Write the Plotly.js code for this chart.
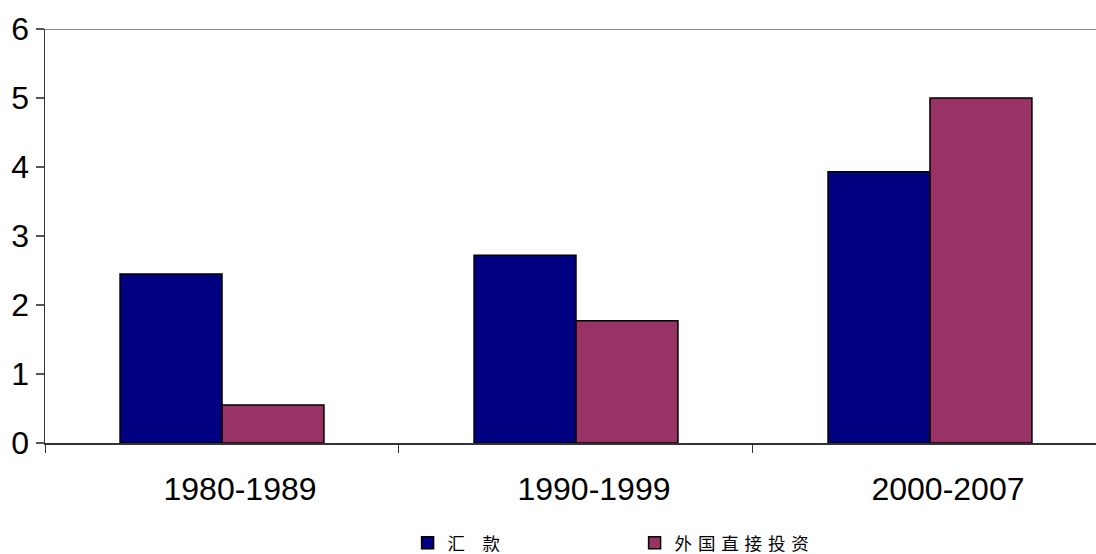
<!DOCTYPE html>
<html>
<head>
<meta charset="utf-8">
<script src="https://cdn.plot.ly/plotly-3.0.1.min.js"></script>
<style>html,body{margin:0;padding:0;background:#fff;overflow:hidden;}#chart{width:1096px;height:554px;}</style>
</head>
<body>
<div id="chart"></div>
<script>
var categories = ["1980-1989", "1990-1999", "2000-2007"];
var remittances = [2.45, 2.72, 3.93];
var fdi = [0.55, 1.77, 5.0];
var seriesNames = ["汇\u3000款", "外\u2004国\u2004直\u2004接\u2004投\u2004资"];
var yTicks = [0, 1, 2, 3, 4, 5, 6];

var traces = [
  {type: "bar", x: categories, y: remittances, name: seriesNames[0],
   marker: {color: "#000080", line: {color: "#000000", width: 1.5}}},
  {type: "bar", x: categories, y: fdi, name: seriesNames[1],
   marker: {color: "#993366", line: {color: "#000000", width: 1.5}}}
];

var layout = {
  width: 1096, height: 554,
  margin: {l: 45, r: 0, t: 29, b: 111, autoexpand: false},
  paper_bgcolor: "#ffffff", plot_bgcolor: "#ffffff",
  barmode: "group", bargap: 0.424, bargroupgap: 0,
  showlegend: true,
  font: {family: "Liberation Sans, Arial, sans-serif", color: "#000000"},
  xaxis: {
    type: "category", range: [-0.5, 2.469],
    tickson: "boundaries", ticks: "outside", ticklen: 8, tickcolor: "#333333", tickwidth: 1,
    showline: true, linecolor: "#333333", linewidth: 1.5,
    showgrid: false, zeroline: false,
    tickfont: {size: 32, family: "Liberation Sans, Arial, sans-serif"},
    ticklabelstandoff: 17, ticklabelshift: 18, fixedrange: true
  },
  yaxis: {
    range: [0, 6], tickvals: yTicks, ticks: "outside", ticklen: 8,
    tickcolor: "#555555", tickwidth: 1.5,
    showline: true, linecolor: "#333333", linewidth: 1.5,
    showgrid: false, zeroline: false,
    tickfont: {size: 32, family: "Liberation Sans, Arial, sans-serif"},
    ticklabelstandoff: 0, fixedrange: true
  },
  shapes: [
    {type: "line", xref: "paper", yref: "y", x0: 0, x1: 1, y0: 6, y1: 6,
     line: {color: "#888888", width: 2}}
  ],
  legend: {
    orientation: "h", xref: "paper", yref: "paper",
    x: 0.345, xanchor: "left", y: -0.2415, yanchor: "middle",
    font: {size: 17.5, family: "Noto Sans CJK SC, sans-serif", color: "#000000"},
    entrywidth: 182, entrywidthmode: "pixels",
    bgcolor: "rgba(0,0,0,0)", borderwidth: 0
  }
};

Plotly.newPlot("chart", traces, layout, {displayModeBar: false, staticPlot: true});
</script>
</body>
</html>
